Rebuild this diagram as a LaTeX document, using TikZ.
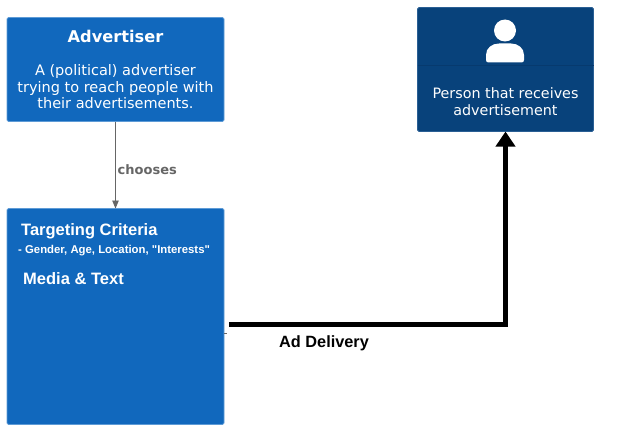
\documentclass[tikz,border=0pt]{standalone}
\usepackage{fontspec}
\setmainfont{DejaVu Sans}
\newfontfamily\arialf{Liberation Sans}
\usetikzlibrary{arrows.meta}
\definecolor{sysblue}{HTML}{1168BD}
\definecolor{sysedge}{HTML}{5E9BD6}
\definecolor{persblue}{HTML}{08427B}
\definecolor{persedge}{HTML}{2A5F94}
\definecolor{persline}{HTML}{073A6E}
\definecolor{linkgray}{HTML}{666666}
\tikzset{
  box/.style={rounded corners=1.5pt,line width=0.8pt,inner sep=0pt,outer sep=0pt,anchor=north west},
  sysbox/.style={box,fill=sysblue,draw=sysedge},
  persbox/.style={box,fill=persblue,draw=persedge},
  wtext/.style={text=white,inner sep=0pt,align=center,font=\fontsize{14.5}{16.4}\selectfont},
  ptext/.style={text=white,inner sep=0pt,align=center,font=\fontsize{14.3}{16.4}\selectfont},
  head/.style={text=white,inner sep=0pt,font=\fontsize{16.2}{18}\selectfont\bfseries},
  crit/.style={text=white,inner sep=0pt,anchor=west,font=\arialf\bfseries\fontsize{16.5}{19}\selectfont},
  critsmall/.style={text=white,inner sep=0pt,anchor=west,font=\arialf\bfseries\fontsize{11.35}{13}\selectfont},
  thin link/.style={draw=linkgray,line width=0.9pt,-{Triangle[length=8pt,width=6.5pt]}},
  heavy link/.style={draw=black,line width=5pt,-{Triangle[length=15pt,width=19pt]}}
}
\begin{document}
\begin{tikzpicture}[x=1pt,y=-1pt]
\useasboundingbox (0,0) rectangle (619,428);
\node[sysbox,minimum width=217pt,minimum height=104pt] (adv) at (7,17.5) {};
\node[head] (advt) at (115.5,36.5) {Advertiser};
\node[wtext] (advd) at (115.5,86.7) {A (political) advertiser\\trying to reach people with\\their advertisements.};
\node[sysbox,minimum width=217pt,minimum height=216pt] (crit) at (7,208.5) {};
\node[crit] (c1) at (21,231.5) {Targeting Criteria};
\node[critsmall] (c2) at (18,251) {- Gender, Age, Location, "Interests"};
\node[crit] (c3) at (23,278.5) {Media \& Text};
\node[persbox,minimum width=176pt,minimum height=124pt] (pers) at (417.5,7.5) {};
\draw[persline,line width=0.7pt] (pers.west |- 0,65.5) coordinate (dl) -- (pers.east |- 0,65.5) coordinate (dr);
\fill[white] (505,30.5) circle (11pt);
\fill[white] (488.5,62.5) .. controls (487,62.5) and (486,61.5) .. (486,60) -- (486,55) .. controls (486,48) and (492,43.5) .. (499,43.5) -- (511,43.5) .. controls (518,43.5) and (524,48) .. (524,55) -- (524,60) .. controls (524,61.5) and (523,62.5) .. (521.5,62.5) -- cycle;
\node[ptext] (perst) at (505.5,101.5) {Person that receives\\advertisement};
\draw[thin link] (adv.south) -- (crit.north);
\node[text=linkgray,inner sep=0pt,anchor=west,font=\fontsize{13}{15}\selectfont\bfseries] (ch) at (117.5,169.5) {chooses};
\coordinate (hs) at (229,324.5);
\coordinate (stub) at (227,333);
\draw[linkgray,line width=0.4pt] (crit.east |- stub) -- (stub);
\draw[heavy link] (hs) -- (pers.south |- hs) -- (pers.south);
\node[inner sep=0pt,anchor=west,font=\arialf\bfseries\fontsize{16.3}{19}\selectfont] (ad) at (279,343) {Ad Delivery};
\end{tikzpicture}
\end{document}
